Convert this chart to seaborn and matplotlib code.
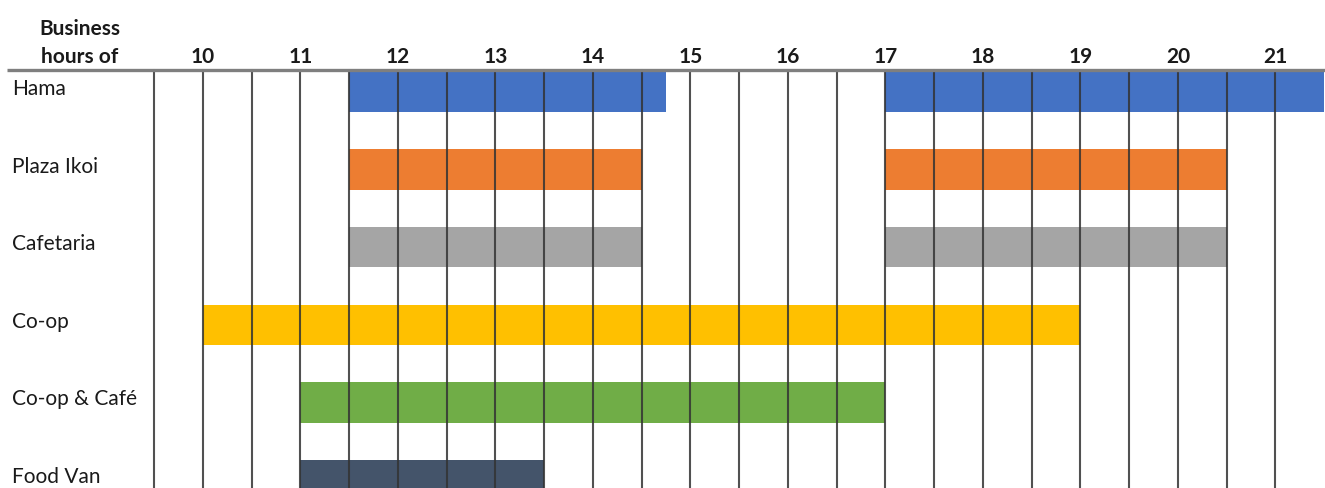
import matplotlib
matplotlib.use("Agg")
import matplotlib.pyplot as plt
import seaborn as sns

# Opening hours per venue (start, end in decimal hours)
venues = ["Hama", "Plaza Ikoi", "Cafetaria", "Co-op", "Co-op & Café", "Food Van"]
hama_hours = [(11.5, 14.75), (17.0, 21.5)]
plaza_ikoi_hours = [(11.5, 14.5), (17.0, 20.5)]
cafetaria_hours = [(11.5, 14.5), (17.0, 20.5)]
coop_hours = [(10.0, 19.0)]
coop_cafe_hours = [(11.0, 17.0)]
food_van_hours = [(11.0, 13.5)]
schedules = [hama_hours, plaza_ikoi_hours, cafetaria_hours, coop_hours, coop_cafe_hours, food_van_hours]
bar_colors = ["#4472C4", "#ED7D31", "#A5A5A5", "#FFC000", "#70AD47", "#44546A"]
hour_ticks = list(range(10, 22))

sns.set_theme(style="white")
plt.rcParams["font.family"] = ["Lato", "DejaVu Sans"]

fig = plt.figure(figsize=(13.25, 4.88), dpi=100)
ax = fig.add_axes([0, 0, 1, 1])

x_min, x_max = 7.918, 21.508
y_top, y_bottom = -1.186, 5.103
ax.set_xlim(x_min, x_max)
ax.set_ylim(y_bottom, y_top)
ax.axis("off")

# Bars
for i, (segments, color) in enumerate(zip(schedules, bar_colors)):
    for start, end in segments:
        ax.barh(i, end - start, left=start, height=0.52, color=color,
                edgecolor="none", zorder=2)

# Header rule
header_y = -0.284
ax.plot([7.99, x_max], [header_y, header_y], color="#7f7f7f", lw=2.4,
        solid_capstyle="butt", zorder=4)

# Half-hour grid lines
half_hours = [9.5 + 0.5 * k for k in range(24)]
for h in half_hours:
    ax.plot([h, h], [header_y, y_bottom], color="#333333", lw=1.5,
            alpha=0.85, zorder=3)

text_color = "#1a1a1a"
fs = 15

# Hour labels
for h in hour_ticks:
    ax.text(h, header_y - 0.04, str(h), ha="center", va="bottom",
            fontsize=fs, fontweight="bold", color=text_color)

# Header text in label column
ax.text(8.735, header_y - 0.04, "Business\nhours of", ha="center", va="bottom",
        fontsize=fs, fontweight="bold", color=text_color, linespacing=1.5)

# Venue labels
for i, name in enumerate(venues):
    ax.text(8.04, i - 0.04, name, ha="left", va="center", fontsize=fs,
            color=text_color)

fig.savefig("out.png", dpi=100)
